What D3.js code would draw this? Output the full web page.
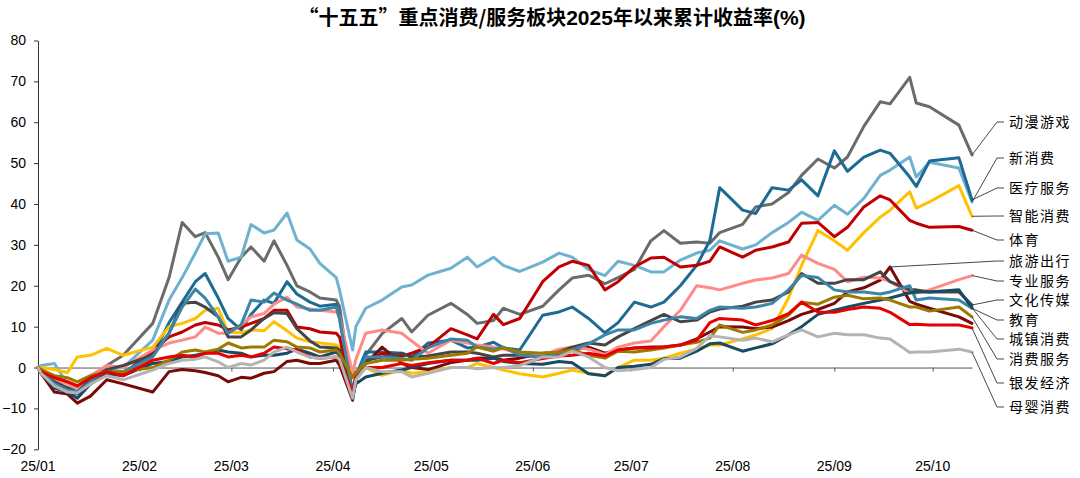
<!DOCTYPE html>
<html>
<head>
<meta charset="utf-8">
<script src="https://cdn.jsdelivr.net/npm/d3@7"></script>
<style>
  body { margin: 0; background: #fff; }
  svg { display: block; }
</style>
</head>
<body>
<svg id="chart" width="1080" height="478"></svg>
<script>
// sample dates (2025), holidays skipped so the gaps draw as straight segments
const dates = [
  "01-01","01-02","01-06","01-10","01-13","01-17","01-22","01-27",
  "02-05","02-10","02-14","02-18","02-21","02-25","02-28",
  "03-04","03-07","03-11","03-14","03-18","03-21","03-25","03-28",
  "04-02","04-03","04-07","04-08","04-11","04-16","04-22","04-25","04-30",
  "05-07","05-12","05-15","05-20","05-23","05-28",
  "06-04","06-09","06-13","06-18","06-23","06-27",
  "07-02","07-07","07-11","07-16","07-21","07-25","07-28",
  "08-04","08-08","08-13","08-18","08-22","08-27",
  "09-01","09-05","09-10","09-15","09-18","09-24","09-26","09-30",
  "10-09","10-13"
];

const names = ["动漫游戏","新消费","医疗服务","智能消费","体育","旅游出行","专业服务",
  "文化传媒","教育","城镇消费","消费服务","银发经济","母婴消费"];

const colors = ["#6b6b6b","#6fb2d0","#1d6a95","#ffc000","#c00000","#7a0a0a","#ff8a8a",
  "#454545","#3a86a6","#1a4a62","#9c7a00","#e60000","#b4b4b4"];

const dongman = [0,-1,-4.5,-5,-6,-2.5,0.5,3,
  10.8,22,35.5,32,33,27,21.5,
  27,29.5,26,31,25,20,18.5,17,
  16.5,15,-7,-3,3,8.3,12,8.7,12.8,
  15.7,13,10.8,11.5,14.5,13,
  15,19,21.9,22.6,20.5,22,
  24,31,33.5,30.4,30.7,30.4,33,
  35,39.3,40,42.8,47,51,
  48.8,51.5,59,65,64.5,71,64.7,63.8,
  59.3,52];
const xinxiaofei = [0,0.5,1,-4,-6,-3,-0.5,0,
  6.7,16.5,22,28,32.7,32.9,26,
  27,35,32.9,33.6,37.8,31.2,29,25.5,
  22,19,4.3,10,14.5,16.5,19.7,20.2,22.6,
  24.3,27,24.6,27,25,23.5,
  25.8,28,27,24,22.5,26,
  25,23.4,23.4,26.3,28,28.7,31,
  29,30,33,35.5,38,36,
  39.7,37.5,41.4,47,48.3,51.5,46.6,50.2,
  48.8,40.5];
const yiliao = [0,-1,-4.5,-6,-6.5,-4,-1.5,-1.5,
  3,11,16,21,23,17,12,
  9.2,13,16.5,15.7,21,18,16,15,
  15.5,12,-6,-2,3.8,3.8,3.5,2.5,6,
  6.7,4.8,5,6.2,4.8,4.3,
  12.8,13.6,14.8,12,8.5,11,
  16,14.8,16,20,25,31,44,
  38.5,37.7,44,43.4,45.9,42,
  53,48,51.5,53.2,52.4,46.6,44.3,50.5,
  51.3,41];
const zhineng = [0,0,-0.5,-1.2,2.6,3,4.7,3,
  5,10,10.8,12,14,14.5,8.7,
  8.5,9.2,9,11.2,9,7.2,6.3,6,
  5.5,5,-7,-3,0,-1.9,-0.6,-1.4,-1,
  0,0,1,0,-0.6,-1.5,
  -2.3,-1.4,-0.6,-1.4,-2,0,
  1.8,1.8,2.3,3.5,4.5,5.5,5.5,
  7,8,9.5,17,25,33.5,
  31,28.7,33,36.8,38.5,43,39,40.5,
  44.5,37];
const tiyu = [0,-1,-2.5,-3.5,-4.5,-2.5,-1,-1.5,
  4,7.5,8.7,10.4,11,10.4,9.2,
  9.9,10.8,12,14,14,9.9,9.5,8.7,
  8.4,7.5,-7,-2,1.5,3.5,2.8,3.5,5,
  9.5,8,7,13,10.5,12,
  21,24.6,26,25,19,21,
  24.6,26.8,27,24.6,25,26,29.5,
  27,28.7,29.5,30.7,35.3,35.5,
  32,34.3,39.3,42,41,36,35.3,34.3,
  34.5,33.6];
const lvyou = [0,-1.5,-6,-6.5,-8.7,-7,-3,-4,
  -6,-1,-0.5,-0.8,-1.2,-2,-3.5,
  -2.4,-2.6,-1.4,-1,1.5,1.8,1,1,
  1.8,0.6,-8,-3,1,5,1,0,-0.5,
  1.2,1.8,2.3,2.4,1.8,2.3,
  3.5,3.8,4.2,5,3.5,4.3,
  4.8,5,5,5.5,7,8.7,10,
  9.9,9.5,9.9,11.5,13,14.2,
  15.7,18.5,19.5,21.4,24.6,16.2,15.5,14.5,
  12.4,10.8];
const zhuanye = [0,-1,-3,-4,-5,-2,0.5,0,
  4.3,6,6.7,7.5,9.9,8.4,8.4,
  10.4,12.4,13.2,15.5,17.2,14.8,14.3,14,
  13.6,12.4,-1.4,2,8.4,9.2,8.4,6.5,3.5,
  6.7,6,5.5,5,4.5,3.5,
  3,4.5,5,4.5,3.2,5,
  6,6.5,10,14,20,19.5,19,
  20.6,21.4,21.9,23,27.5,25.5,
  24,21,22.1,21.9,21,18.2,18.2,19,
  21.5,22.5];
const wenhua = [0,-1,-3.5,-5,-6,-3,-0.5,0.5,
  3,8.4,15.7,16,14.8,12.4,7.5,
  7.5,9.2,12,13.4,13.2,9.5,6.5,5,
  4.8,4.3,-7.5,-3,1.8,2.6,3.5,2.6,2.8,
  3.8,3.8,3.5,2.6,3,3,
  2.6,3.8,5,6,5.5,7.5,
  9.5,11.5,13,11.2,11.6,13.6,14.3,
  15,16,16.5,18.5,23,20.6,
  20.6,21.5,21.5,23.4,21,19,19,18.5,
  18.5,15.3];
const jiaoyu = [0,-1,-4,-5.5,-6,-3.5,-1,-1,
  2.6,8.4,14.8,19.2,17,12.4,8.4,
  10.5,16.5,16,18.2,16.5,15.5,14,14,
  14.8,12,-6.5,-2.5,2.6,2.6,2.2,1.8,4.8,
  7,6.7,5,4.5,5,3,
  2.6,3.5,4.3,5.8,8,9.2,
  9.2,10.8,11.6,12.4,12,14,14.8,
  14.5,14.8,15.7,19,22.5,22,
  19,18.5,18.5,18,18.5,20,16.5,17,
  16.5,14.5];
const chengzhen = [0,-1.5,-5,-6,-7.5,-4,-1.5,-2,
  1,1.5,2.6,3,3.5,4.3,3.8,
  3.5,2.6,3,3,3.5,4.5,3.5,2.6,
  3.8,3,-7,-4,-2.3,-1.4,-0.6,0,1,
  1.8,1.8,1.8,2.3,1.5,1,
  0.8,1.5,1.2,-1.5,-2,0,
  0.3,0.8,2.2,2.3,4,5.8,6,
  4,4.8,5.8,8,10,13,
  14,14.8,15.7,16.5,17,18.3,18.5,18.5,
  19,14.6];
const xiaofeifuwu = [0,-0.5,-2,-2.5,-3.5,-2,-1,-1,
  0,1.8,3.8,4.3,3.8,4.5,6,
  4.8,5,5,6.7,6.3,5,4.8,3.8,
  4.3,3.5,-2.5,-1,1,1.8,1.8,2,2.3,
  3,3.5,5,4,4.8,3.8,
  3.5,3.8,4.3,3,2.3,4,
  3.8,4.3,4.8,5.5,6.2,7.2,10.4,
  8.6,9.2,10.4,12.8,16,15.5,
  17.2,17.7,16.8,17,16.5,14.8,14.8,13.8,
  14.8,12.4];
const yinfa = [0,-1,-2.5,-3.5,-4.5,-2.5,-1,-2,
  1.8,2.6,3,2.6,3.5,3.5,2.6,
  3,2.6,3.5,5,4.6,4.3,2.6,2.3,
  2.6,2,-6,-2.5,0,0,1,0.5,1.2,
  1.8,1.8,2.3,1,1.8,1.2,
  2.2,2.8,3,3.5,2.8,4.3,
  4.8,4.8,5,5.5,6.7,11,12,
  11.6,10.4,11.5,13.2,16,13.6,
  13.5,14.2,14.8,14.5,13.5,10.5,10.6,10.4,
  10.4,9.7];
const muying = [0,-1.5,-4.5,-6,-6.2,-4,-2,-3,
  -0.6,1,1.8,2,2.6,1.4,0,
  1,0.6,1.8,3.8,5,3.8,2.5,2.3,
  2.6,2,-7.5,-3,0,-1,-1,-2.3,-1.4,
  0,0,-0.3,0,0,0.5,
  2.6,2.6,4,2.6,0,-0.8,
  -0.5,0,2,2.6,4.7,7.8,7.5,
  6.7,7.2,6.3,8,9.2,7.5,
  8.4,8,8,7.2,7,3.7,3.8,3.8,
  4.5,3.8];

const seriesValues = [dongman, xinxiaofei, yiliao, zhineng, tiyu, lvyou, zhuanye,
  wenhua, jiaoyu, chengzhen, xiaofeifuwu, yinfa, muying];

const monthLabels = ["25/01","25/02","25/03","25/04","25/05","25/06","25/07","25/08","25/09","25/10"];
const yTicks = [-20,-10,0,10,20,30,40,50,60,70,80];

// label layout on the right (pixel rows) and where each leader attaches
const labelRows = [122,158,188,216,240,261,281,300,320,339,359,383,407];
const leaderAt = names.map(n => n === "旅游出行" ? "max" : "last");

const svg = d3.select("#chart");
const parse = d3.timeParse("%Y-%m-%d");
const toDate = s => parse("2025-" + s);

const x = d3.scaleTime()
  .domain([toDate("01-01"), toDate("10-13")])
  .range([38, 972]);
const y = d3.scaleLinear()
  .domain([-20, 80])
  .range([449.3, 40.5]);

// title
const title = svg.append("text")
  .attr("x", 552)
  .attr("y", 25)
  .attr("text-anchor", "middle")
  .style("font-weight", "bold")
  .style("font-size", "20px")
  .style("font-family", "'Noto Sans CJK SC', sans-serif");
title.append("tspan").text("“十五五”重点消费/服务板块");
title.append("tspan").style("font-family", "'Liberation Sans Narrow','Liberation Sans',sans-serif").style("font-size", "21px").text("2025");
title.append("tspan").text("年以来累计收益率");
title.append("tspan").style("font-family", "'Liberation Sans Narrow','Liberation Sans',sans-serif").style("font-size", "21px").text("(%)");

// y axis
const gy = svg.append("g")
  .attr("transform", "translate(38,0)")
  .call(d3.axisLeft(y).tickValues(yTicks).tickSize(4).tickSizeOuter(0).tickPadding(8));
gy.select(".domain").attr("stroke", "#333");
gy.selectAll(".tick line").attr("stroke", "#333");
gy.selectAll(".tick text")
  .style("font-family", "'Liberation Sans', Arial, sans-serif")
  .style("font-size", "14px")
  .attr("fill", "#000");

// zero axis with month ticks
const monthStarts = monthLabels.map((_, i) => new Date(2025, i, 1));
const gx = svg.append("g")
  .attr("transform", `translate(0,${y(0)})`)
  .call(d3.axisBottom(x).tickValues(monthStarts).tickSize(4).tickSizeOuter(0).tickFormat(""));
gx.select(".domain").attr("stroke", "#555");
gx.selectAll(".tick line").attr("stroke", "#555");

// month labels along the bottom
svg.append("g")
  .selectAll("text")
  .data(monthStarts)
  .enter()
  .append("text")
  .attr("x", d => x(d))
  .attr("y", 471)
  .attr("text-anchor", "middle")
  .style("font-family", "'Liberation Sans', Arial, sans-serif")
  .style("font-size", "14px")
  .text((d, i) => monthLabels[i]);

// series lines
const line = d3.line()
  .x(d => x(d.date))
  .y(d => y(d.v));

const series = names.map((name, i) => ({
  name,
  color: colors[i],
  points: dates.map((s, j) => ({ date: toDate(s), v: seriesValues[i][j] })),
}));

svg.append("g")
  .selectAll("path")
  .data(series)
  .enter()
  .append("path")
  .attr("fill", "none")
  .attr("stroke", d => d.color)
  .attr("stroke-width", 3)
  .attr("stroke-linejoin", "round")
  .attr("stroke-linecap", "round")
  .attr("d", d => line(d.points));

// leaders and labels
const leaders = svg.append("g");
series.forEach((s, i) => {
  const p = leaderAt[i] === "max"
    ? s.points.reduce((a, b) => (b.v > a.v ? b : a))
    : s.points[s.points.length - 1];
  const ly = labelRows[i];
  leaders.append("path")
    .attr("fill", "none")
    .attr("stroke", "#333")
    .attr("stroke-width", 0.9)
    .attr("d", `M${x(p.date)},${y(p.v)}L997,${ly}L1004,${ly}`);
  leaders.append("text")
    .attr("x", 1009)
    .attr("y", ly)
    .attr("dy", "0.36em")
    .style("font-family", "'Noto Sans CJK SC', serif")
    .style("font-size", "14px")
    .style("letter-spacing", "1.5px")
    .text(s.name);
});
</script>
</body>
</html>
